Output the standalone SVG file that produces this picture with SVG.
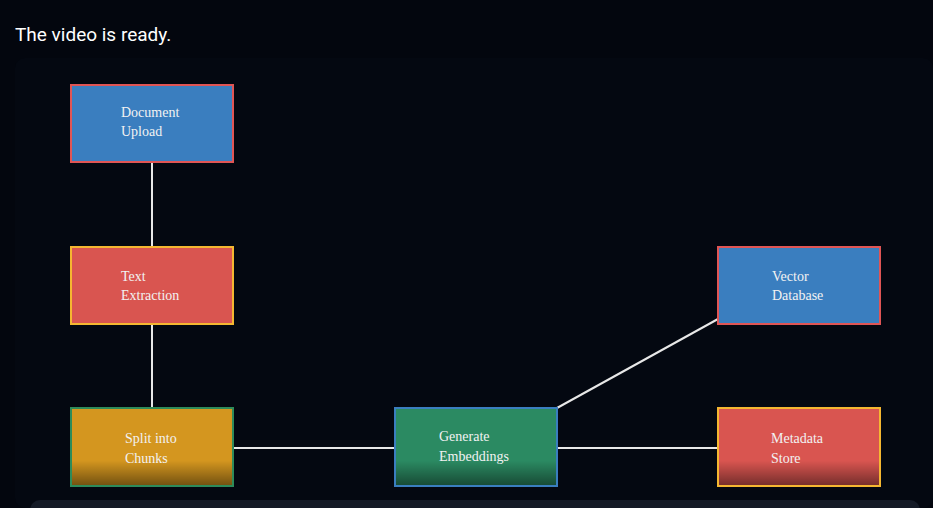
<svg xmlns="http://www.w3.org/2000/svg" width="933" height="508" viewBox="0 0 933 508">
<defs>
<linearGradient id="shade" x1="0" y1="0" x2="0" y2="1">
<stop offset="0" stop-color="#000" stop-opacity="0"/>
<stop offset="0.68" stop-color="#000" stop-opacity="0"/>
<stop offset="1" stop-color="#000" stop-opacity="0.45"/>
</linearGradient>
</defs>
<style>
.lbl{font-family:"Liberation Serif","DejaVu Serif",serif;font-size:14px;fill:#f2f2f2}
.box{stroke-width:2}
.edge{stroke:#e8e8e8;stroke-width:2;fill:none}
</style>
<rect width="933" height="508" fill="#03060e"/>
<rect x="15" y="58" width="918" height="450" rx="10" fill="#040811"/>
<rect x="30" y="500" width="890" height="20" rx="10" fill="#141a26"/>
<text x="15" y="41" font-family="Roboto,'Liberation Sans',sans-serif" font-size="19" fill="#ffffff">The video is ready.</text>
<g id="connectors">
<line class="edge" x1="152" y1="162" x2="152" y2="247"/>
<line class="edge" x1="152" y1="324" x2="152" y2="408"/>
<line class="edge" x1="233" y1="448" x2="395" y2="448"/>
<line class="edge" x1="557" y1="448" x2="718" y2="448"/>
<line class="edge" x1="557" y1="408" x2="718" y2="319"/>
</g>
<g id="doc-upload"><rect class="box" x="71" y="85" width="162" height="77" fill="#3a7ebf" stroke="#e05555"/><text class="lbl" x="121" y="117">Document</text><text class="lbl" x="121" y="136">Upload</text></g>
<g id="text-extraction"><rect class="box" x="71" y="247" width="162" height="77" fill="#d95550" stroke="#f5b731"/><text class="lbl" x="121" y="281">Text</text><text class="lbl" x="121" y="300">Extraction</text></g>
<g id="split-chunks"><rect class="box" x="71" y="408" width="162" height="78" fill="#d4961f" stroke="#2e8b5a"/><rect x="72" y="409" width="160" height="76" fill="url(#shade)"/><text class="lbl" x="125" y="443">Split into</text><text class="lbl" x="125" y="463">Chunks</text></g>
<g id="generate-embeddings"><rect class="box" x="395" y="408" width="162" height="78" fill="#2b8a62" stroke="#3a7ebf"/><rect x="396" y="409" width="160" height="76" fill="url(#shade)"/><text class="lbl" x="439" y="441">Generate</text><text class="lbl" x="439" y="461">Embeddings</text></g>
<g id="vector-db"><rect class="box" x="718" y="247" width="162" height="77" fill="#3a7ebf" stroke="#e05555"/><text class="lbl" x="772" y="281">Vector</text><text class="lbl" x="772" y="300">Database</text></g>
<g id="metadata-store"><rect class="box" x="718" y="408" width="162" height="78" fill="#d95550" stroke="#f5b731"/><rect x="719" y="409" width="160" height="76" fill="url(#shade)"/><text class="lbl" x="771" y="443">Metadata</text><text class="lbl" x="771" y="463">Store</text></g>
</svg>
